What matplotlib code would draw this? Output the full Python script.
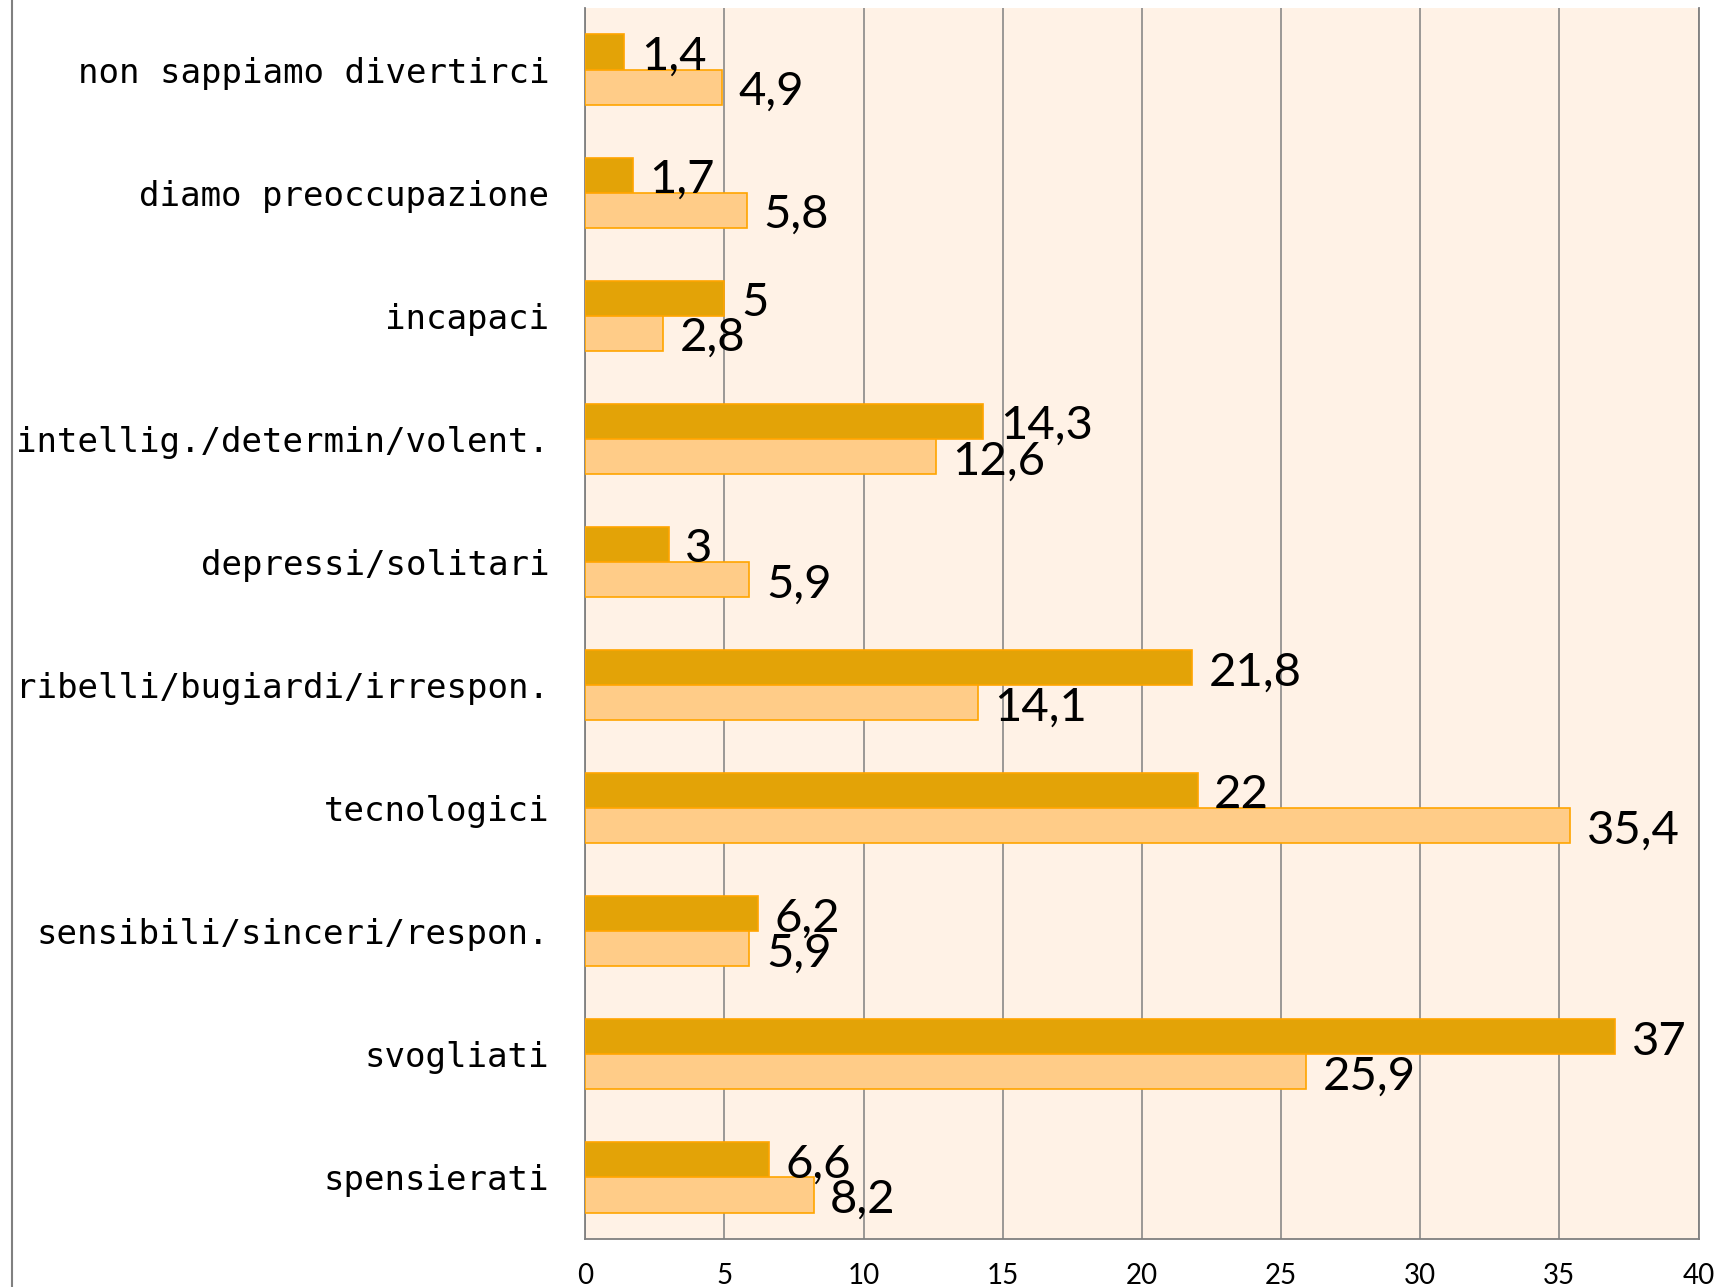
import matplotlib
matplotlib.use("Agg")
import matplotlib.pyplot as plt
from matplotlib.lines import Line2D
import numpy as np

categories = ["non sappiamo divertirci", "diamo preoccupazione", "incapaci",
              "intellig./determin/volent.", "depressi/solitari",
              "ribelli/bugiardi/irrespon.", "tecnologici",
              "sensibili/sinceri/respon.", "svogliati", "spensierati"]
series_a = [1.4, 1.7, 5, 14.3, 3, 21.8, 22, 6.2, 37, 6.6]
series_b = [4.9, 5.8, 2.8, 12.6, 5.9, 14.1, 35.4, 5.9, 25.9, 8.2]
x_ticks = [0, 5, 10, 15, 20, 25, 30, 35, 40]

NUM_FONT = "Lato"

def fmt(v):
    s = f"{v:g}"
    return s.replace(".", ",")

fig = plt.figure(figsize=(17.22, 12.87), dpi=100)
ax = fig.add_axes([585.3 / 1722, 48 / 1287, (1698.5 - 585.3) / 1722, (1279 - 48) / 1287])
ax.set_facecolor("#FFF2E6")

y = np.arange(len(categories))
h = 0.285
bars_a = ax.barh(y - h / 2, series_a, height=h, color="#E3A307", edgecolor="#FFA500", linewidth=1.2, zorder=3)
bars_b = ax.barh(y + h / 2, series_b, height=h, color="#FFCC88", edgecolor="#FFA500", linewidth=1.2, zorder=3)

for bars, vals in ((bars_a, series_a), (bars_b, series_b)):
    for b, v in zip(bars, vals):
        ax.annotate(fmt(v), xy=(b.get_width(), b.get_y() + b.get_height() / 2),
                    xytext=(12, -3.5), textcoords="offset points",
                    ha="left", va="center", fontsize=34, family=NUM_FONT,
                    color="black", zorder=4)

ax.set_xlim(0, 40)
ax.set_ylim(len(categories) - 0.5, -0.5)
ax.set_xticks(x_ticks)
ax.set_xticklabels([str(t) for t in x_ticks], family=NUM_FONT, fontsize=20)
ax.set_yticks(y)
ax.set_yticklabels(categories, family="DejaVu Sans Mono", fontsize=24.6)
ax.tick_params(axis="both", length=0)
ax.tick_params(axis="y", pad=26)
ax.tick_params(axis="x", pad=17)

ax.grid(axis="x", color="#808080", linewidth=1.1)
ax.grid(axis="y", visible=False)
ax.set_axisbelow(True)

for side in ("left", "bottom", "right"):
    ax.spines[side].set_color("#808080")
    ax.spines[side].set_linewidth(1.3)
ax.spines["top"].set_visible(False)

fig.add_artist(Line2D([12 / 1722, 12 / 1722], [0, 1], transform=fig.transFigure,
                      color="#808080", linewidth=1.5))

fig.savefig("out.png", dpi=100)
